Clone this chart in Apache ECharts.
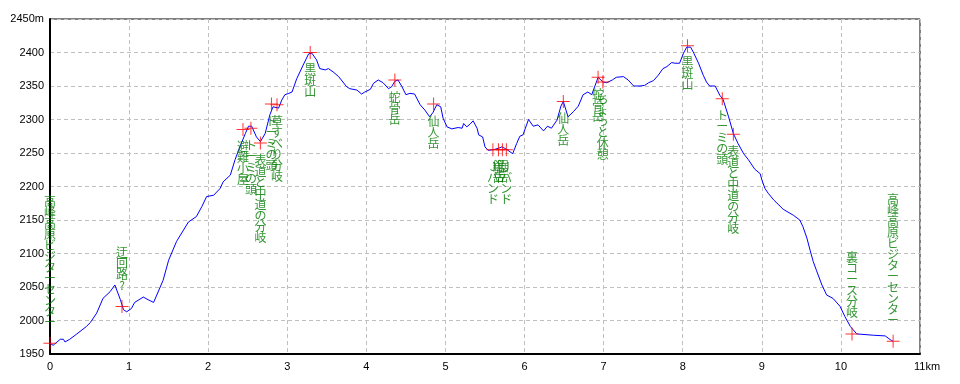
<!DOCTYPE html>
<html>
<head>
<meta charset="utf-8">
<script src="https://cdn.jsdelivr.net/npm/echarts@6/dist/echarts.min.js"></script>
<style>
html,body{margin:0;padding:0;background:#fff;}
#chart{width:960px;height:384px;}
</style>
</head>
<body>
<div id="chart"></div>
<script>
// Profile: distance (km) and elevation (m)
const distKm = [0.00,0.04,0.13,0.17,0.19,0.25,0.34,0.46,0.51,0.59,0.67,0.76,0.82,0.84,0.89,0.93,0.97,1.03,1.07,1.18,1.24,1.31,1.35,1.43,1.50,1.60,1.75,1.85,1.92,1.98,2.07,2.15,2.19,2.28,2.34,2.40,2.47,2.51,2.55,2.61,2.66,2.72,2.78,2.82,2.89,2.93,2.97,3.02,3.06,3.12,3.20,3.27,3.31,3.37,3.41,3.48,3.52,3.58,3.65,3.75,3.79,3.88,3.94,3.98,4.05,4.09,4.15,4.21,4.28,4.32,4.36,4.40,4.45,4.50,4.55,4.61,4.68,4.74,4.80,4.84,4.89,4.94,4.97,5.02,5.08,5.16,5.21,5.23,5.27,5.31,5.35,5.40,5.42,5.47,5.50,5.54,5.61,5.67,5.71,5.75,5.79,5.85,5.90,5.94,5.98,6.05,6.11,6.17,6.24,6.29,6.34,6.41,6.46,6.49,6.55,6.62,6.68,6.74,6.80,6.85,6.89,6.93,6.99,7.04,7.11,7.16,7.25,7.31,7.38,7.46,7.52,7.57,7.63,7.69,7.75,7.80,7.86,7.90,7.96,8.01,8.05,8.10,8.14,8.20,8.26,8.30,8.34,8.41,8.47,8.51,8.58,8.64,8.70,8.77,8.83,8.91,8.98,9.00,9.04,9.08,9.15,9.27,9.40,9.48,9.52,9.57,9.61,9.65,9.69,9.76,9.82,9.90,9.99,10.05,10.12,10.20,10.41,10.56,10.64,10.66];
const elevM = [1966,1963,1972,1972,1968,1972,1980,1991,1997,2011,2033,2043,2053,2052,2031,2016,2013,2018,2027,2035,2031,2027,2038,2060,2090,2118,2147,2155,2170,2185,2187,2197,2207,2217,2240,2259,2279,2290,2290,2274,2267,2279,2307,2319,2317,2329,2337,2339,2341,2361,2381,2398,2399,2389,2376,2374,2376,2371,2364,2349,2346,2344,2338,2341,2345,2354,2359,2355,2346,2349,2357,2359,2349,2337,2339,2338,2322,2314,2304,2310,2322,2319,2302,2289,2286,2288,2287,2294,2289,2293,2298,2287,2277,2274,2259,2254,2255,2257,2259,2257,2254,2249,2264,2275,2277,2300,2290,2292,2283,2290,2287,2299,2320,2327,2304,2312,2320,2337,2341,2337,2350,2363,2356,2355,2359,2363,2364,2359,2350,2350,2351,2355,2358,2366,2376,2379,2385,2384,2384,2399,2408,2408,2399,2384,2366,2356,2350,2350,2336,2330,2304,2279,2264,2249,2240,2226,2219,2210,2197,2190,2180,2166,2157,2150,2140,2123,2105,2088,2075,2053,2038,2033,2021,2006,1991,1980,1978,1977,1970,1969];

// Waypoints
const wpKm   = [0.00, 0.91, 2.44, 2.54, 2.66, 2.80, 2.87, 3.29, 4.36, 4.85, 5.60, 5.67, 5.72, 5.77, 6.49, 6.93, 6.99, 8.06, 8.50, 8.64, 10.14, 10.66];
const wpElev = [1966, 2021, 2285, 2287, 2265, 2323, 2322, 2400, 2359, 2323, 2255, 2255, 2255, 2255, 2327, 2363, 2356, 2410, 2331, 2278, 1980, 1969];
const wpName = ['高峰高原ビジターセンター','迂回路?','避難小屋','トーミの頭','表道と中道の分岐','トーミの頭','草すべり分岐','黒斑山','蛇骨岳','仙人岳','Jバンド','鋸岳','鋸岳','Jバンド','仙人岳','蛇骨岳','ちょっと休憩','黒斑山','トーミの頭','表道と中道の分岐','裏コース分岐','高峰高原ビジターセンター'];

// Axis ticks
const xTicks = [0,1,2,3,4,5,6,7,8,9,10,11];
const yTicks = [1950,2000,2050,2100,2150,2200,2250,2300,2350,2400,2450];

const profile = distKm.map((d,i)=>[d, elevM[i]]);
const wps = wpKm.map((d,i)=>{
  const above = wpElev[i] < 2100;
  return {
    value:[d, wpElev[i]],
    name: wpName[i],
    label:{position: above ? 'top' : 'bottom', distance: above ? 9 : 5}
  };
});

const chart = echarts.init(document.getElementById('chart'), null, {renderer:'canvas'});
const axisFont = {color:'#000', fontFamily:'Liberation Sans', fontSize:11};
chart.setOption({
  animation:false,
  backgroundColor:'#fff',
  grid:{left:50, right:40, top:19, bottom:30, show:true, borderColor:'#000', borderWidth:1, backgroundColor:'transparent'},
  xAxis:{
    type:'value', min:xTicks[0], max:xTicks[xTicks.length-1], interval:1,
    axisLine:{show:true, onZero:false, lineStyle:{color:'#000', width:2}},
    axisTick:{show:false},
    splitLine:{show:true, lineStyle:{color:'#c0c0c0', type:[4,3], width:1}},
    axisLabel:Object.assign({margin:7,
      formatter:v=> v===11 ? '{k|11km}' : String(v),
      rich:{k:{padding:[0,0,0,14], color:'#000', fontFamily:'Liberation Sans', fontSize:11}}
    }, axisFont)
  },
  yAxis:{
    type:'value', min:yTicks[0], max:yTicks[yTicks.length-1], interval:50,
    axisLine:{show:true, lineStyle:{color:'#000', width:2}},
    axisTick:{show:false},
    splitLine:{show:true, lineStyle:{color:'#c0c0c0', type:[4,3], width:1}},
    axisLabel:Object.assign({margin:6, formatter:v=> v===2450 ? '2450m' : String(v)}, axisFont)
  },
  series:[
    {
      type:'line', data:profile, showSymbol:false, symbol:'none',
      lineStyle:{color:'#0000ff', width:1}, z:3, silent:true
    },
    {
      type:'scatter', data:wps,
      symbol:'path://M6,0h1v13h-1z M0,6h13v1h-13z',
      symbolSize:13,
      itemStyle:{color:'#ff0000'},
      z:4,
      label:{
        show:true,
        formatter:p=>p.name.split('').join('\n'),
        color:'#007a00',
        fontFamily:'Noto Sans CJK JP',
        fontSize:12,
        lineHeight:11,
        align:'center'
      }
    }
  ]
});
</script>
</body>
</html>
